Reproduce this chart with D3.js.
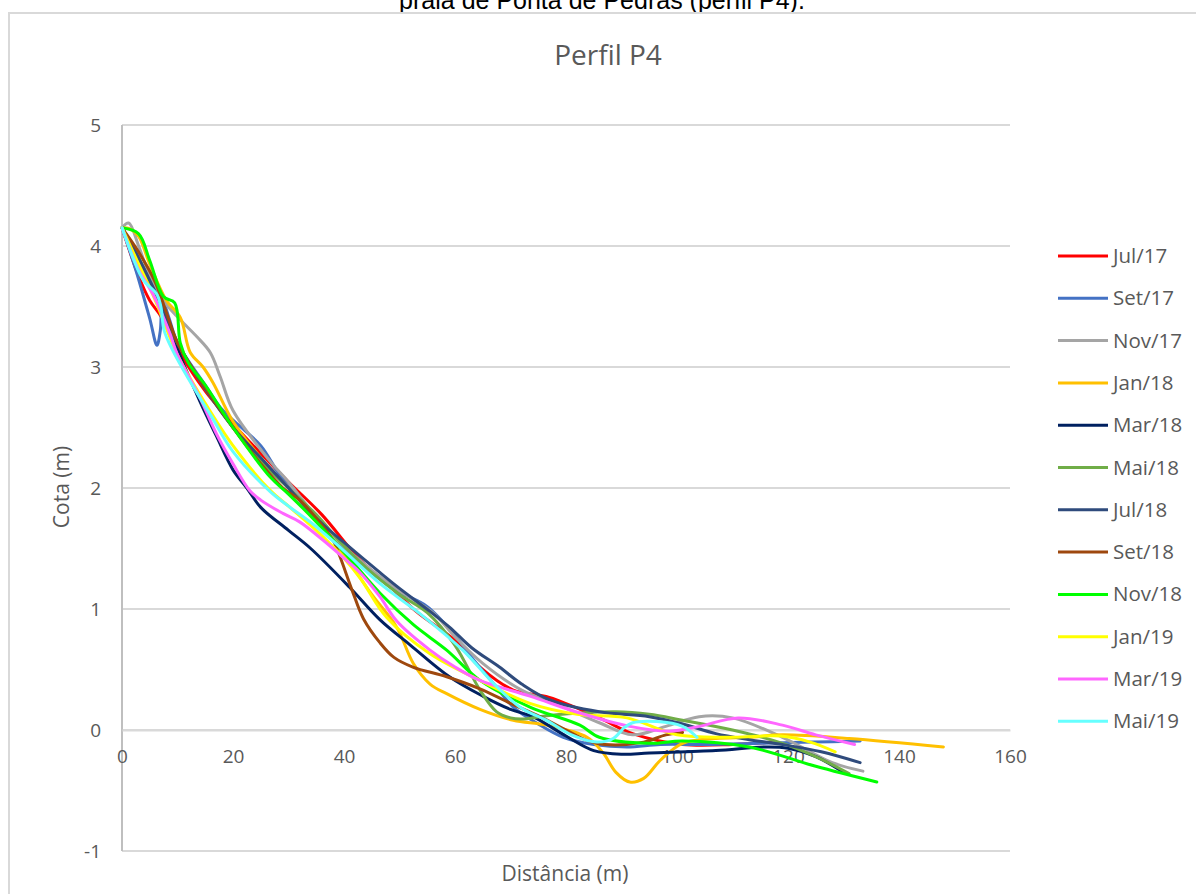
<!DOCTYPE html>
<html>
<head>
<meta charset="utf-8">
<script src="https://cdn.jsdelivr.net/npm/d3@7"></script>
<style>
  html, body { margin: 0; padding: 0; background: #ffffff; }
  svg { display: block; }
</style>
</head>
<body>
<svg id="chart" width="1196" height="894"></svg>
<script>
// ---- Data (distance m, elevation m) ----
const seriesNames = ["Jul/17","Set/17","Nov/17","Jan/18","Mar/18","Mai/18","Jul/18","Set/18","Nov/18","Jan/19","Mar/19","Mai/19"];

const jul17 = [[0,4.15],[3,3.75],[5,3.55],[7,3.42],[10,3.15],[15,2.8],[21,2.48],[26,2.24],[30,2.05],[36,1.78],[43,1.4],[48,1.2],[53,0.98],[60,0.74],[64.5,0.52],[70.5,0.33],[77,0.27],[86,0.1],[92,-0.03],[101,-0.12],[110,-0.12],[117,-0.1]];
const set17 = [[0,4.15],[2.5,3.8],[5,3.4],[6.3,3.18],[6.9,3.3],[7.3,3.55],[8.5,3.4],[10,3.2],[15,2.85],[18,2.65],[22,2.48],[25,2.35],[29,2.07],[35,1.75],[40,1.5],[45,1.3],[50,1.14],[55,1.02],[60,0.78],[63,0.6],[67,0.38],[70.5,0.19],[75,0.05],[79.5,-0.06],[85,-0.12],[91,-0.14],[97,-0.12],[105,-0.12],[115,-0.11],[124.5,-0.1],[133,-0.09]];
const nov17 = [[0,4.15],[1.2,4.19],[3,4.0],[5,3.75],[7.4,3.55],[10.5,3.39],[13.5,3.25],[15.9,3.12],[17.7,2.92],[20,2.64],[26.7,2.22],[30,2.05],[37,1.65],[45,1.32],[50,1.15],[56,0.97],[60,0.77],[65,0.55],[72,0.33],[79,0.2],[86,0.06],[92,-0.04],[98,0.03],[104,0.11],[110,0.1],[119,-0.06],[128,-0.27],[133.5,-0.34]];
const jan18 = [[0,4.15],[1.5,4.14],[3,4.08],[5,3.85],[8,3.55],[10.5,3.41],[12.3,3.12],[14.6,3.0],[16.4,2.87],[20,2.55],[25,2.25],[30,2.0],[35,1.75],[40,1.45],[45,1.12],[49.5,0.85],[52.5,0.55],[55.5,0.38],[58.5,0.3],[64.5,0.17],[70.5,0.08],[76.5,0.04],[83.8,-0.06],[86.7,-0.19],[89,-0.35],[91.5,-0.43],[94,-0.4],[97,-0.25],[101,-0.11],[107,-0.07],[113,-0.06],[119,-0.04],[131,-0.07],[148,-0.14]];
const mar18 = [[0,4.15],[3,3.9],[6,3.6],[8.6,3.36],[10,3.15],[14,2.72],[17,2.43],[20,2.15],[22.5,2.0],[25,1.84],[30,1.65],[34,1.5],[41,1.18],[46.5,0.91],[52,0.7],[59,0.44],[65,0.28],[70,0.17],[74,0.11],[80,-0.05],[85,-0.17],[90,-0.2],[95,-0.19],[107,-0.17],[116,-0.14],[120,-0.15],[125,-0.22],[130,-0.35]];
const mai18 = [[0,4.15],[3,3.9],[6,3.6],[10,3.2],[15,2.82],[20,2.5],[25,2.22],[30,2.0],[35,1.78],[40,1.52],[45,1.3],[50,1.12],[55,0.97],[60,0.7],[64.5,0.33],[67.5,0.15],[70,0.1],[72,0.09],[77,0.12],[89,0.15],[95,0.13],[101,0.08],[110,0.0],[119,-0.11],[125,-0.22],[131,-0.36]];
const jul18 = [[0,4.15],[3,3.9],[6,3.62],[10,3.2],[15,2.82],[20,2.5],[25,2.25],[30,2.0],[35,1.75],[40,1.55],[46.5,1.3],[50,1.17],[55.5,0.98],[59,0.85],[63,0.68],[68,0.52],[72,0.38],[77,0.25],[86,0.15],[95,0.11],[101,0.05],[107,-0.03],[113,-0.08],[119,-0.12],[126,-0.18],[133,-0.27]];
const set18 = [[0,4.15],[3,3.95],[6,3.7],[8,3.45],[10,3.2],[14,2.9],[20,2.5],[25,2.2],[29,2.0],[32,1.9],[35,1.75],[38,1.57],[39.3,1.43],[41.5,1.15],[43.5,0.92],[46.5,0.72],[49,0.6],[52.4,0.52],[58.5,0.44],[64.5,0.34],[70,0.22],[75.3,0.11],[80,0.0],[84,-0.09],[87,-0.12],[94,-0.1],[98,-0.04],[101,-0.02]];
const nov18 = [[0,4.15],[3,4.1],[5,3.88],[7.5,3.58],[9.5,3.53],[10.5,3.2],[12,3.03],[15,2.85],[20,2.5],[26.7,2.09],[30,1.95],[35,1.72],[40,1.47],[46.5,1.13],[52.5,0.87],[58.5,0.66],[64.5,0.41],[73.5,0.19],[82.5,0.04],[86,-0.06],[95,-0.11],[101,-0.09],[113,-0.14],[125,-0.3],[136,-0.43]];
const jan19 = [[0,4.15],[3,3.85],[6,3.55],[10,3.1],[15,2.7],[20,2.35],[26.7,1.98],[30,1.85],[35,1.65],[40,1.42],[43,1.25],[47.7,0.93],[55.5,0.63],[64.5,0.41],[73.5,0.22],[82,0.13],[91,0.1],[100,-0.04],[110,-0.06],[118.6,-0.05],[124,-0.1],[128.5,-0.18]];
const mar19 = [[0,4.15],[3,3.8],[5.6,3.6],[8.6,3.28],[10,3.1],[14,2.75],[17,2.45],[20,2.2],[23,1.98],[25,1.9],[29,1.79],[32,1.72],[36.2,1.57],[40,1.42],[42.9,1.3],[46.5,1.1],[49.5,0.9],[55.5,0.66],[60,0.52],[64.5,0.41],[73.5,0.28],[82.5,0.14],[91.5,0.03],[98.7,-0.01],[104,0.03],[111,0.1],[119,0.04],[125,-0.04],[132,-0.12]];
const mai19 = [[0,4.15],[2,3.9],[3.8,3.72],[6.3,3.6],[7,3.5],[7.6,3.3],[9,3.15],[12,2.9],[16,2.6],[20,2.3],[26.7,1.97],[30,1.85],[35,1.68],[40,1.48],[46.5,1.21],[54,0.95],[61.4,0.66],[67.5,0.36],[72,0.18],[76.5,0.08],[81,-0.04],[85.6,-0.1],[88.5,-0.07],[90.5,0.02],[92,0.06],[96.4,0.07],[101,0.03],[103.6,-0.06]];

const seriesData = [jul17, set17, nov17, jan18, mar18, mai18, jul18, set18, nov18, jan19, mar19, mai19];
const seriesColors = ["#FF0000","#4472C4","#A5A5A5","#FFC000","#002060","#70AD47","#2F4B7C","#9E480E","#00FF00","#FFFF00","#FF66FF","#66FFFF"];

const xTicks = [0,20,40,60,80,100,120,140,160];
const yTicks = [-1,0,1,2,3,4,5];

const captionText = "praia de Ponta de Pedras (perfil P4).";
const titleText = "Perfil P4";
const xTitle = "Distância (m)";
const yTitle = "Cota (m)";

// ---- Drawing ----
const svg = d3.select("#chart");
const font = "'Open Sans', 'Noto Sans', sans-serif";
const textColor = "#595959";

// caption (cut at the top edge, as in the source)
svg.append("text")
  .attr("x", 602).attr("y", 9)
  .attr("text-anchor", "middle")
  .attr("font-family", "'Liberation Sans', Arial, sans-serif")
  .attr("font-size", 25)
  .attr("fill", "#000")
  .text(captionText);

// chart area border
svg.append("rect")
  .attr("x", 9).attr("y", 13)
  .attr("width", 1200).attr("height", 900)
  .attr("fill", "#fff")
  .attr("stroke", "#d9d9d9")
  .attr("stroke-width", 2);

const x = d3.scaleLinear().domain([0, 160]).range([122, 1010]);
const y = d3.scaleLinear().domain([-1, 5]).range([851, 125]);

// gridlines
svg.append("g")
  .selectAll("line")
  .data(yTicks)
  .join("line")
  .attr("x1", x(0)).attr("x2", x(160))
  .attr("y1", d => y(d)).attr("y2", d => y(d))
  .attr("stroke", "#d9d9d9")
  .attr("stroke-width", 2);

// y axis line
svg.append("line")
  .attr("x1", x(0)).attr("x2", x(0))
  .attr("y1", y(5)).attr("y2", y(-1))
  .attr("stroke", "#bfbfbf").attr("stroke-width", 2);

// x axis (at y=0) with tick labels
const xAxis = d3.axisBottom(x).tickValues(xTicks).tickSize(0).tickPadding(20)
  .tickFormat(d => String(d));
const gx = svg.append("g").attr("transform", `translate(0,${y(0)})`).call(xAxis);
gx.select(".domain").attr("stroke", "#d9d9d9").attr("stroke-width", 2);
gx.selectAll("text").attr("font-family", font).attr("font-size", 19).attr("fill", textColor);

// y axis labels
const yAxis = d3.axisLeft(y).tickValues(yTicks).tickSize(0).tickPadding(21)
  .tickFormat(d => String(d));
const gy = svg.append("g").attr("transform", `translate(${x(0)},0)`).call(yAxis);
gy.select(".domain").remove();
gy.selectAll("text").attr("font-family", font).attr("font-size", 19).attr("fill", textColor);

// lines
const line = d3.line()
  .x(d => x(d[0]))
  .y(d => y(d[1]))
  .curve(d3.curveCatmullRom.alpha(0.5));

svg.append("g")
  .selectAll("path")
  .data(seriesData)
  .join("path")
  .attr("d", d => line(d))
  .attr("fill", "none")
  .attr("stroke", (d, i) => seriesColors[i])
  .attr("stroke-width", 3)
  .attr("stroke-linejoin", "round")
  .attr("stroke-linecap", "round");

// title
svg.append("text")
  .attr("x", 608).attr("y", 65)
  .attr("text-anchor", "middle")
  .attr("font-family", font)
  .attr("font-size", 28)
  .attr("fill", textColor)
  .text(titleText);

// axis titles
svg.append("text")
  .attr("x", 565).attr("y", 881)
  .attr("text-anchor", "middle")
  .attr("font-family", font)
  .attr("font-size", 21)
  .attr("fill", textColor)
  .text(xTitle);

svg.append("text")
  .attr("transform", "translate(69,487) rotate(-90)")
  .attr("text-anchor", "middle")
  .attr("font-family", font)
  .attr("font-size", 21)
  .attr("fill", textColor)
  .text(yTitle);

// legend
const legend = svg.append("g");
const legendRows = legend.selectAll("g")
  .data(seriesNames)
  .join("g")
  .attr("transform", (d, i) => `translate(1058,${256 + i * 42.3})`);
legendRows.append("line")
  .attr("x1", 0).attr("x2", 50)
  .attr("stroke", (d, i) => seriesColors[i])
  .attr("stroke-width", 3);
legendRows.append("text")
  .attr("x", 55).attr("y", 7)
  .attr("font-family", font)
  .attr("font-size", 20.5)
  .attr("fill", textColor)
  .text(d => d);
</script>
</body>
</html>
